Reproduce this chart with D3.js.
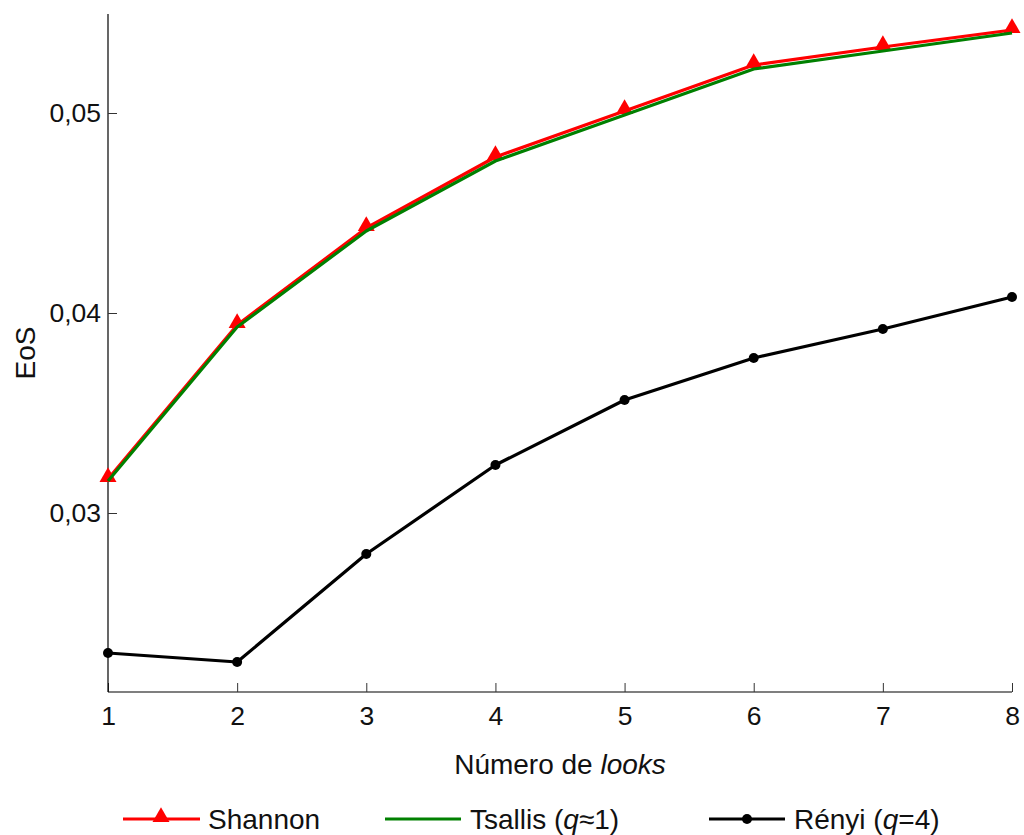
<!DOCTYPE html>
<html><head><meta charset="utf-8">
<script src="https://cdn.jsdelivr.net/npm/d3@7"></script>
<style>body{margin:0;background:#fff}svg{display:block;font-family:"Liberation Sans",Arial,sans-serif}</style>
</head><body>
<svg id="c" width="1024" height="835"></svg>
<script>
const looks = [1,2,3,4,5,6,7,8];
const shannon = [0.0317,0.0394,0.04425,0.0478,0.0501,0.0524,0.0533,0.05415];
const tsallis = [0.0316,0.0393,0.0441,0.0476,0.0499,0.0522,0.0531,0.0540];
const renyi = [0.0230,0.02255,0.02795,0.0324,0.03565,0.03775,0.0392,0.0408];
const yTicks = [0.03,0.04,0.05];
const xTicks = [1,2,3,4,5,6,7,8];

const svg = d3.select("#c");
const x = d3.scaleLinear().domain([1,8]).range([108,1012]);
const y = d3.scaleLinear().domain([0.021,0.055]).range([693,13]);
const fsTick = 26.5, fs = 28;

// axes
const gx = svg.append("g").attr("transform","translate(0,692)")
  .call(d3.axisBottom(x).tickValues(xTicks).tickSizeInner(-9).tickSizeOuter(0).tickPadding(14).tickFormat(d3.format("d")));
const gy = svg.append("g").attr("transform","translate(108,0)")
  .call(d3.axisLeft(y).tickValues(yTicks).tickSizeInner(-9).tickSizeOuter(0).tickPadding(7).tickFormat(d=>d3.format(".2f")(d).replace(".",",")));
[gx,gy].forEach(g=>{
  g.select(".domain").attr("stroke","#000").attr("stroke-width",1.2);
  g.selectAll(".tick line").attr("stroke","#333").attr("stroke-width",1);
  g.selectAll(".tick text").attr("font-size",fsTick).attr("fill","#111").attr("font-family","Liberation Sans, Arial, sans-serif");
});
gx.selectAll(".tick text").attr("y",33).attr("dy",0);
gy.select(".domain").attr("d","M0,692V14");
gx.select(".domain").attr("d","M108,0H1012");

const line = d3.line().x((d,i)=>x(looks[i])).y(d=>y(d));
const tri = d3.symbol().type(d3.symbolTriangle).size(125);

// Shannon
svg.append("path").datum(shannon).attr("d",line).attr("fill","none").attr("stroke","#ff0000").attr("stroke-width",3.2).attr("stroke-linejoin","round");
svg.selectAll(".tri").data(shannon).enter().append("path")
  .attr("d",tri).attr("fill","#ff0000")
  .attr("transform",(d,i)=>`translate(${x(looks[i])},${y(d)-2})`);
// Tsallis
svg.append("path").datum(tsallis).attr("d",line).attr("fill","none").attr("stroke","#008000").attr("stroke-width",3.2).attr("stroke-linejoin","round");
// Renyi
svg.append("path").datum(renyi).attr("d",line).attr("fill","none").attr("stroke","#000").attr("stroke-width",3.2).attr("stroke-linejoin","round");
svg.selectAll(".dot").data(renyi).enter().append("circle")
  .attr("cx",(d,i)=>x(looks[i])).attr("cy",d=>y(d)).attr("r",5).attr("fill","#000");

// axis labels
svg.append("text").attr("transform","translate(35,353) rotate(-90)").attr("text-anchor","middle")
  .attr("font-size",fs).attr("fill","#111").text("EoS");
const xl = svg.append("text").attr("x",560).attr("y",774).attr("text-anchor","middle").attr("font-size",fs).attr("fill","#111");
xl.append("tspan").text("Número de ");
xl.append("tspan").attr("font-style","italic").text("looks");

// legend
const lg = svg.append("g");
const ly = 819;
function legLine(x1,x2,color){lg.append("line").attr("x1",x1).attr("x2",x2).attr("y1",ly).attr("y2",ly).attr("stroke",color).attr("stroke-width",3.2);}
legLine(123,200,"#ff0000");
lg.append("path").attr("d",tri).attr("fill","#ff0000").attr("transform",`translate(161,${ly-2})`);
legLine(385,461,"#008000");
legLine(709,785,"#000");
lg.append("circle").attr("cx",747).attr("cy",ly).attr("r",5).attr("fill","#000");
function legText(xp,parts){const t=lg.append("text").attr("x",xp).attr("y",ly+10).attr("font-size",fs).attr("fill","#111");
  parts.forEach(p=>{const s=t.append("tspan").text(p[0]); if(p[1]) s.attr("font-style","italic");});}
legText(208,[["Shannon"]]);
legText(470,[["Tsallis ("],["q",1],["≈1)"]]);
legText(794,[["Rényi ("],["q",1],["=4)"]]);
</script>
</body></html>
